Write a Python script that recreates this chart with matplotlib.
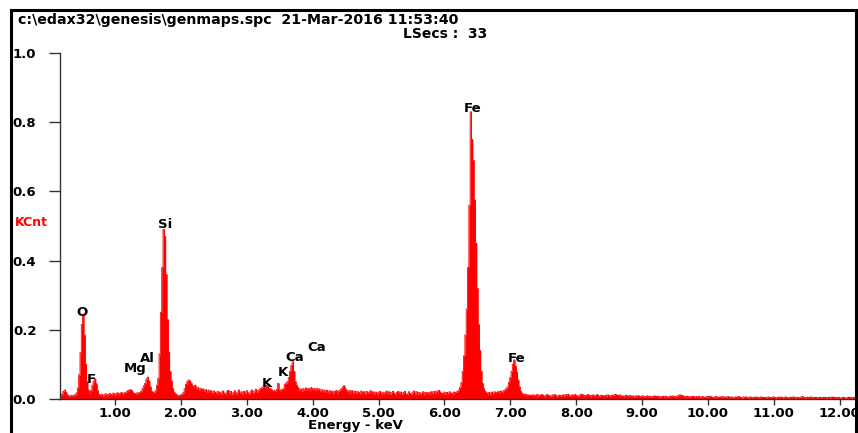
import numpy as np
import matplotlib
matplotlib.use("Agg")
import matplotlib.pyplot as plt
from matplotlib.lines import Line2D

plt.rcParams['font.family'] = ['DejaVu Sans']
plt.rcParams['font.weight'] = 'bold'

# spectrum counts, 0.02 keV channels starting at 0.16 keV (20 channels per row)
counts = [
    6, 10, 14, 22, 26, 20, 12, 9, 8, 10, 9, 11, 12, 18, 32, 70, 135, 215, 245, 185,
    100, 50, 26, 18, 24, 40, 52, 58, 44, 24, 13, 10, 14, 8, 12, 15, 9, 13, 16, 10,
    14, 17, 11, 15, 18, 12, 16, 19, 13, 17, 19, 21, 24, 26, 27, 24, 18, 16, 14, 18,
    16, 19, 22, 30, 38, 45, 58, 63, 52, 35, 22, 18, 20, 24, 40, 60, 130, 250, 380, 490,
    470, 360, 230, 135, 80, 52, 30, 20, 15, 12, 9, 11, 10, 14, 18, 30, 42, 50, 55, 52,
    46, 38, 35, 40, 28, 33, 26, 31, 24, 29, 22, 27, 20, 26, 19, 24, 17, 23, 20, 16,
    22, 15, 20, 14, 23, 17, 13, 21, 25, 15, 22, 14, 19, 24, 15, 20, 26, 16, 21, 14,
    22, 16, 24, 18, 14, 21, 26, 17, 23, 28, 20, 25, 29, 31, 34, 37, 35, 39, 36, 31,
    30, 26, 23, 25, 22, 28, 45, 26, 24, 28, 30, 42, 46, 50, 62, 80, 98, 108, 80, 50,
    40, 33, 26, 29, 23, 30, 25, 32, 27, 31, 24, 33, 28, 30, 26, 31, 25, 29, 22, 27,
    21, 26, 19, 25, 18, 24, 20, 23, 17, 22, 25, 18, 23, 26, 30, 35, 38, 29, 24, 19,
    25, 18, 24, 17, 23, 16, 22, 19, 15, 23, 18, 21, 15, 22, 17, 20, 24, 16, 21, 15,
    20, 14, 19, 22, 15, 20, 13, 18, 23, 15, 21, 14, 19, 22, 16, 13, 19, 22, 15, 20,
    14, 19, 22, 15, 13, 21, 16, 14, 20, 23, 15, 21, 14, 19, 13, 17, 21, 14, 19, 16,
    19, 14, 21, 16, 22, 17, 23, 18, 25, 19, 16, 15, 20, 14, 19, 15, 21, 17, 15, 20,
    18, 20, 22, 26, 34, 48, 80, 125, 185, 260, 380, 560, 830, 750, 690, 575, 450, 320, 215, 140,
    80, 45, 30, 22, 18, 14, 19, 13, 20, 15, 21, 16, 19, 22, 17, 23, 19, 24, 26, 30,
    35, 48, 62, 80, 100, 113, 95, 78, 55, 35, 22, 16, 14, 12, 13, 11, 12, 10, 11, 12,
    11, 9, 13, 8, 12, 10, 13, 11, 8, 10, 13, 11, 9, 8, 12, 10, 13, 9, 8, 11,
    10, 8, 12, 9, 13, 11, 14, 9, 8, 12, 10, 13, 11, 9, 8, 12, 14, 12, 9, 11,
    10, 13, 11, 8, 10, 12, 8, 10, 13, 9, 8, 11, 10, 7, 10, 9, 12, 10, 8, 10,
    11, 12, 13, 11, 10, 12, 8, 10, 7, 9, 11, 7, 9, 10, 7, 9, 6, 9, 8, 10,
    8, 6, 9, 8, 6, 8, 9, 6, 8, 5, 8, 7, 9, 8, 6, 8, 5, 7, 8, 6,
    8, 6, 5, 8, 7, 9, 8, 6, 8, 9, 11, 12, 10, 9, 8, 6, 8, 7, 5, 7,
    7, 8, 5, 7, 6, 8, 4, 6, 7, 5, 4, 7, 6, 8, 7, 5, 4, 6, 7, 5,
    6, 4, 6, 7, 4, 6, 5, 7, 6, 4, 6, 3, 5, 6, 4, 7, 6, 4, 3, 6,
    5, 6, 4, 3, 6, 5, 3, 5, 6, 4, 5, 3, 6, 5, 4, 5, 3, 5, 6, 4,
    4, 5, 6, 4, 3, 5, 4, 6, 5, 3, 5, 6, 4, 3, 5, 4, 5, 6, 3, 5,
    5, 3, 5, 6, 7, 4, 3, 5, 4, 5, 6, 3, 5, 4, 5, 3, 4, 5, 3, 5,
    4, 5, 3, 4, 5, 3, 6, 4, 5, 3, 4, 5, 3, 3, 4, 5, 3, 3, 4, 5,
    4, 3, 4, 5, 4,
]
energy = 0.16 + 0.02 * np.arange(len(counts))
kcnt = np.array(counts) / 1000.0

# element markers: (symbol, keV, KCnt)
peak_labels = [
    ("O", 0.50, 0.250), ("F", 0.64, 0.056), ("Mg", 1.30, 0.087),
    ("Al", 1.49, 0.116), ("Si", 1.76, 0.504), ("K", 3.30, 0.045),
    ("K", 3.55, 0.077), ("Ca", 3.73, 0.121), ("Ca", 4.06, 0.150),
    ("Fe", 6.43, 0.840), ("Fe", 7.10, 0.117),
]

x_ticks = [1, 2, 3, 4, 5, 6, 7, 8, 9, 10, 11, 12]
y_ticks = [0.0, 0.2, 0.4, 0.6, 0.8, 1.0]

W, H = 858, 433
fig = plt.figure(figsize=(W / 100, H / 100), dpi=100)
ax = fig.add_axes([60 / W, 34 / H, 797 / W, 346 / H])

ax.fill_between(energy, kcnt, step='mid', color='#ff0000', lw=0)
ax.step(energy, kcnt, where='mid', color='#ff0000', lw=0.6)

ax.set_xlim(0.167, 12.26)
ax.set_ylim(0, 1.0)
ax.set_xticks(x_ticks)
ax.set_xticklabels(["%.2f" % t for t in x_ticks])
ax.set_yticks(y_ticks)
ax.set_yticklabels(["%.1f" % t for t in y_ticks])
ax.tick_params(axis='y', direction='out', length=8, width=1, pad=9,
               labelsize=9.5, colors='#333333', labelcolor='black')
ax.tick_params(axis='x', direction='out', length=4.5, width=1, pad=1,
               labelsize=9.5, colors='#333333', labelcolor='black')
for lab in ax.get_xticklabels() + ax.get_yticklabels():
    lab.set_fontweight('bold')
for s in ('top', 'right'):
    ax.spines[s].set_visible(False)
for s in ('left', 'bottom'):
    ax.spines[s].set_color('#333333')
    ax.spines[s].set_linewidth(1)
ax.patch.set_alpha(0)

for name, e, v in peak_labels:
    ax.text(e, v, name, ha='center', va='center', fontsize=9.5,
            fontweight='bold', color='black')

# header and axis captions
fig.text(18 / W, 1 - 20 / H, "c:\\edax32\\genesis\\genmaps.spc  21-Mar-2016 11:53:40",
         ha='left', va='center', fontsize=10.2, fontweight='bold')
fig.text(487 / W, 1 - 33.5 / H, "LSecs :  33", ha='right', va='center',
         fontsize=10, fontweight='bold')
fig.text(15 / W, 1 - 223 / H, "KCnt", ha='left', va='center', fontsize=9,
         fontweight='bold', color='#ff0000')
fig.text(355 / W, 1 - 426 / H, "Energy - keV", ha='center', va='center',
         fontsize=9.5, fontweight='bold')

# outer frame (left, top, right)
lx, rx, ty = 10.5 / W, 856 / W, 1 - 10 / H
fig.add_artist(Line2D([lx, lx, rx, rx], [0, ty, ty, 0], transform=fig.transFigure,
                      color='black', lw=2.2, solid_joinstyle='miter'))

fig.savefig('out.png', dpi=100)
